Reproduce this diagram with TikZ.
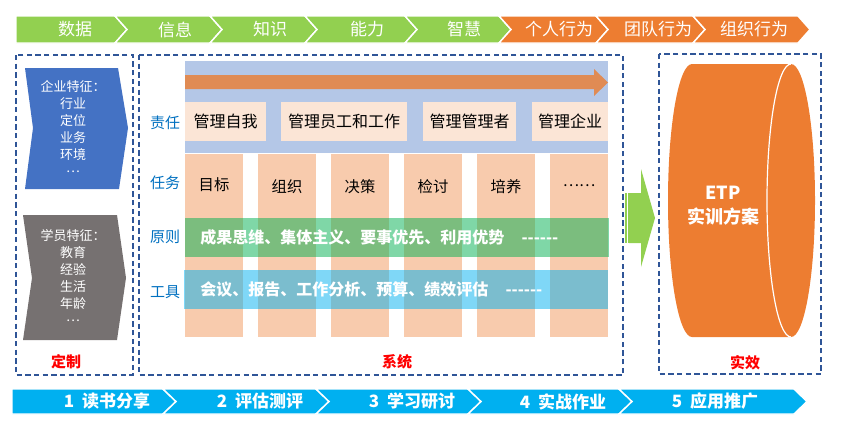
\documentclass[tikz,border=0pt]{standalone}
\usepackage{fontspec}
\setmainfont{Noto Sans CJK SC}
\definecolor{cGreen}{HTML}{92D050}
\definecolor{cOrange}{HTML}{ED7D31}
\definecolor{cBlueS}{HTML}{4472C4}
\definecolor{cGray}{HTML}{767171}
\definecolor{cDash}{HTML}{2F5597}
\definecolor{cLabel}{HTML}{0070C0}
\definecolor{cBand}{HTML}{B4C7E7}
\definecolor{cArrow}{HTML}{E08B54}
\definecolor{cResp}{HTML}{FBE5D6}
\definecolor{cCol}{HTML}{F8CBAD}
\definecolor{cPrin}{HTML}{00B050}
\definecolor{cTool}{HTML}{00B0F0}
\definecolor{cCyan}{HTML}{00B0F0}
\newcommand\myhy{-\kern0pt}
\newcommand\mydots{\raisebox{0.3em}{…}}
\begin{document}
\begin{tikzpicture}[x=0.75pt,y=-0.75pt,
  chevline/.style={draw=white,line width=1.1pt,line join=miter},
  toptxt/.style={text=white,inner sep=0pt,font=\fontsize{12.75}{15}\selectfont},
  bottxt/.style={text=white,inner sep=0pt,font=\bfseries\fontsize{12.75}{15}\selectfont},
  dashbox/.style={draw=cDash,line width=0.8pt,dash pattern=on 4pt off 2.5pt},
  sidetxt/.style={text=white,inner sep=0pt,align=center,font=\fontsize{9.75}{12.75}\selectfont},
  redtxt/.style={text=red,inner sep=0pt,font=\bfseries\fontsize{11.25}{13}\selectfont},
  rowlbl/.style={text=cLabel,inner sep=0pt,font=\fontsize{11.25}{13}\selectfont},
  resptxt/.style={text=black,inner sep=0pt,font=\fontsize{12}{14}\selectfont},
  coltxt/.style={text=black,inner sep=0pt,font=\fontsize{11.5}{14}\selectfont},
  bandtxt/.style={text=white,inner sep=0pt,anchor=west,font=\bfseries\fontsize{12}{14}\selectfont},
  cyltxt/.style={text=white,inner sep=0pt,align=center,font=\bfseries\fontsize{13.5}{18}\selectfont}]
\useasboundingbox (0,0) rectangle (852,436);

% ---------- top chevrons ----------
\filldraw[chevline,fill=cGreen] (16,16) -- (115,16) -- (127,29.5) -- (115,43) -- (16,43) -- cycle;
\foreach \a/\b/\c in {115/210/cGreen,210/305/cGreen,305/405/cGreen,405/499/cGreen,499/596/cOrange,596/693/cOrange,693/798/cOrange}
  \filldraw[chevline,fill=\c] (\a,16) -- (\b,16) -- (\b+12,29.5) -- (\b,43) -- (\a,43) -- (\a+12,29.5) -- cycle;
\node[toptxt] (t1) at (75,29.5) {数据};
\node[toptxt] (t2) at (175,29.5) {信息};
\node[toptxt] (t3) at (270,29.5) {知识};
\node[toptxt] (t4) at (367,29.5) {能力};
\node[toptxt] (t5) at (464,29.5) {智慧};
\node[toptxt] (t6) at (559,29.5) {个人行为};
\node[toptxt] (t7) at (658,29.5) {团队行为};
\node[toptxt] (t8) at (754,29.5) {组织行为};

% ---------- bottom chevrons ----------
\filldraw[chevline,fill=cCyan] (12,389) -- (163,389) -- (176,401.5) -- (163,414) -- (12,414) -- cycle;
\foreach \a/\b in {163/316,316/468,468/619,619/794}
  \filldraw[chevline,fill=cCyan] (\a,389) -- (\b,389) -- (\b+13,401.5) -- (\b,414) -- (\a,414) -- (\a+13,401.5) -- cycle;
\node[bottxt] (b1) at (107,401.5) {1\hspace{6pt}读书分享};
\node[bottxt] (b2) at (260,401.5) {2\hspace{6pt}评估测评};
\node[bottxt] (b3) at (412,401.5) {3\hspace{6pt}学习研讨};
\node[bottxt] (b4) at (563,401.5) {4\hspace{6pt}实战作业};
\node[bottxt] (b5) at (715,401.5) {5\hspace{6pt}应用推广};

% ---------- dashed frames ----------
\draw[dashbox] (16,55) rectangle (133,375);
\draw[dashbox] (139,55) rectangle (623,375);
\draw[dashbox] (659,54) rectangle (821,374);

% ---------- left side shapes ----------
\fill[cBlueS] (25,68) -- (118,68) -- (128,128) -- (119,189) -- (25,189) -- (33,128) -- cycle;
\node[sidetxt] (qy) at (73,128.5) {企业特征：\\行业\\定位\\业务\\环境\\\mydots};
\fill[cGray] (23,215) -- (117,215) -- (126,278) -- (117,340) -- (23,340) -- (32,278) -- cycle;
\node[sidetxt] (xy) at (73,277) {学员特征：\\教育\\经验\\生活\\年龄\\\mydots};
\node[redtxt] (dz) at (66,362) {定制};

% ---------- middle system ----------
\fill[cBand] (185,61) rectangle (608,153);
\fill[cArrow] (185,75) -- (594,75) -- (594,69) -- (608,82.5) -- (594,96) -- (594,89) -- (185,89) -- cycle;
\fill[cResp] (185,102) rectangle (266,141);
\fill[cResp] (281,102) rectangle (407,141);
\fill[cResp] (423,102) rectangle (516,141);
\fill[cResp] (532,102) rectangle (608,141);
\node[resptxt] (r1) at (225.5,121.5) {管理自我};
\node[resptxt] (r2) at (344,121.5) {管理员工和工作};
\node[resptxt] (r3) at (469.5,121.5) {管理管理者};
\node[resptxt] (r4) at (570,121.5) {管理企业};

\foreach \a in {185,258,331,404,477,550}
  \fill[cCol] (\a,154) rectangle (\a+58,337);
\node[coltxt] (c1) at (214,185) {目标};
\node[coltxt] (c2) at (287,187) {组织};
\node[coltxt] (c3) at (360,187) {决策};
\node[coltxt] (c4) at (433,187) {检讨};
\node[coltxt] (c5) at (506,187) {培养};
\node[coltxt] (c6) at (579,186) {……};

\fill[cPrin,opacity=0.5] (185,218) rectangle (609,257);
\fill[cTool,opacity=0.5] (184,270) rectangle (608,309);
\node[bandtxt] (pr) at (200,237.5) {成果思维、集体主义、要事优先、利用优势\hspace{13pt}\myhy\myhy\myhy\myhy\myhy\myhy};
\node[bandtxt] (tl) at (200,289.5) {会议、报告、工作分析、预算、绩效评估\hspace{13pt}\myhy\myhy\myhy\myhy\myhy\myhy};

\node[rowlbl] (l1) at (165,123) {责任};
\node[rowlbl] (l2) at (165,183) {任务};
\node[rowlbl] (l3) at (165,237) {原则};
\node[rowlbl] (l4) at (165,292) {工具};
\node[redtxt] (xt) at (397,362) {系统};

% ---------- green arrow ----------
\fill[cGreen] (629,193) -- (641,193) -- (641,169) -- (655,218) -- (641,267) -- (641,243) -- (629,243) -- cycle;
\fill[cGreen] (624.6,193) rectangle (625.6,243);
\fill[cGreen] (626.4,193) rectangle (627.4,243);
\fill[cGreen] (628.1,193) rectangle (629.2,243);

% ---------- cylinder ----------
\fill[cOrange] (692,64) -- (791,64) arc[start angle=90,end angle=-90,x radius=18pt,y radius=102.375pt]
  -- (692,337) arc[start angle=270,end angle=90,x radius=18pt,y radius=102.375pt] -- cycle;
\draw[white,line width=0.9pt] (791,64) arc[start angle=90,end angle=270,x radius=18pt,y radius=102.375pt];
\node[cyltxt] (etp) at (723,206) {ETP\\实训方案};
\node[redtxt] (sx) at (745,363) {实效};
\end{tikzpicture}
\end{document}
